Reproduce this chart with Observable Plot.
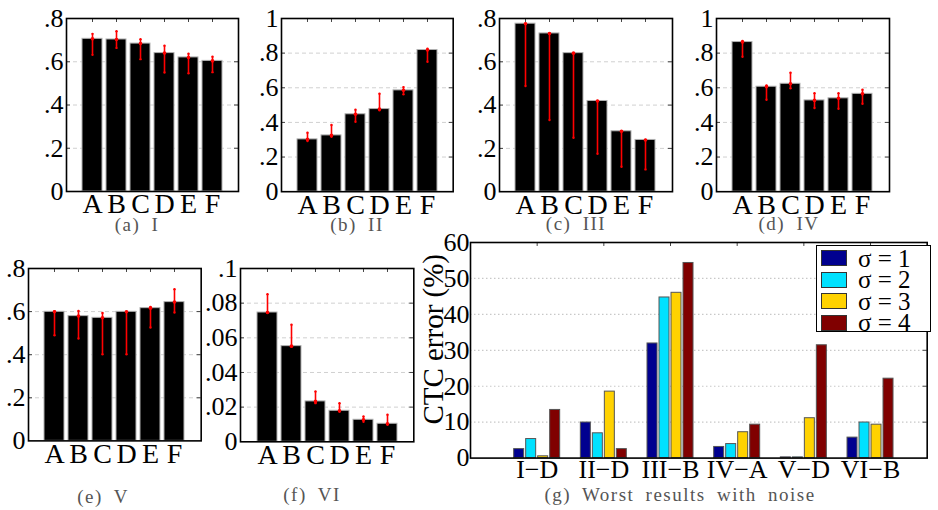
<!DOCTYPE html>
<html>
<head>
<meta charset="utf-8">
<script src="https://cdn.jsdelivr.net/npm/d3@7"></script>
<script src="https://cdn.jsdelivr.net/npm/@observablehq/plot@0.6"></script>
<style>
  html, body { margin: 0; padding: 0; background: white; }
  #fig { position: relative; width: 938px; height: 510px; overflow: hidden; background: white; font-family: "Liberation Serif", "DejaVu Serif", serif; }
  .panel { position: absolute; }
  .bars g[aria-label="x-axis tick label"] { font-size: 28px; }
  .cap { position: absolute; transform: translate(-50%, -50%); color: #555; font-size: 19px; line-height: 0.8; letter-spacing: 1.5px; word-spacing: 5px; white-space: nowrap; }
  #legend { position: absolute; left: 816px; top: 245px; width: 113px; height: 85px; border: 1.5px solid black; background: white; }
  .row { position: absolute; left: 4px; height: 20px; display: flex; align-items: center; }
  .sw { width: 24px; height: 14px; border: 1px solid #333; margin-right: 11px; }
  .lt { display: inline-block; font-size: 25px; line-height: 19px; height: 19px; overflow: visible; white-space: nowrap; }
</style>
</head>
<body>
<div id="fig"></div>
<script>
// ---- data ----
const cats = ["A", "B", "C", "D", "E", "F"];

const valsI = [0.706, 0.703, 0.684, 0.640, 0.620, 0.604];
const loI   = [0.632, 0.664, 0.612, 0.550, 0.547, 0.552];
const hiI   = [0.729, 0.741, 0.704, 0.674, 0.637, 0.623];

const valsII = [0.302, 0.325, 0.447, 0.477, 0.585, 0.818];
const loII   = [0.293, 0.317, 0.404, 0.470, 0.562, 0.750];
const hiII   = [0.340, 0.385, 0.473, 0.566, 0.604, 0.825];

const valsIII = [0.776, 0.731, 0.640, 0.419, 0.279, 0.239];
const loIII   = [0.488, 0.331, 0.249, 0.175, 0.115, 0.103];
const hiIII   = [0.776, 0.731, 0.640, 0.419, 0.279, 0.239];

const valsIV = [0.864, 0.606, 0.623, 0.527, 0.539, 0.565];
const loIV   = [0.779, 0.531, 0.597, 0.483, 0.479, 0.508];
const hiIV   = [0.870, 0.614, 0.687, 0.569, 0.568, 0.589];

const valsV = [0.599, 0.579, 0.571, 0.599, 0.616, 0.644];
const loV   = [0.490, 0.475, 0.402, 0.402, 0.526, 0.596];
const hiV   = [0.602, 0.603, 0.594, 0.599, 0.622, 0.704];

const valsVI = [0.0746, 0.0552, 0.0233, 0.0179, 0.0127, 0.0104];
const loVI   = [0.0746, 0.0548, 0.0223, 0.0173, 0.0115, 0.0098];
const hiVI   = [0.0852, 0.0675, 0.0290, 0.0223, 0.0146, 0.0156];

const groups = ["I\u2212D", "II\u2212D", "III\u2212B", "IV\u2212A", "V\u2212D", "VI\u2212B"];
const sigmaLabels = ["\u03c3 = 1", "\u03c3 = 2", "\u03c3 = 3", "\u03c3 = 4"];
const sigma1 = [2.5, 9.9, 31.9, 3.1, 0.2, 5.7];
const sigma2 = [5.3, 6.9, 44.7, 3.9, 0.2, 9.9];
const sigma3 = [0.5, 18.5, 46.0, 7.2, 11.1, 9.3];
const sigma4 = [13.4, 2.5, 54.3, 9.3, 31.4, 22.1];
const sigmaColors = ["#00008f", "#00e1ff", "#ffd200", "#800000"];

const ticks08 = [0, 0.2, 0.4, 0.6, 0.8];
const ticks1 = [0, 0.2, 0.4, 0.6, 0.8, 1];
const ticks01 = [0, 0.02, 0.04, 0.06, 0.08, 0.1];
const ticks60 = [0, 10, 20, 30, 40, 50, 60];

// ---- helpers ----
const fig = document.getElementById("fig");
const fmt = d => d === 0 ? "0" : d === 1 ? "1" : String(+d.toFixed(3)).replace(/^0\./, ".");

function place(el, left, top, cls) {
  el.classList.add("panel");
  if (cls) el.classList.add(cls);
  el.style.left = left + "px";
  el.style.top = top + "px";
  fig.appendChild(el);
}
function caption(text, x, y) {
  const d = document.createElement("div");
  d.className = "cap";
  d.textContent = text;
  d.style.left = x + "px";
  d.style.top = y + "px";
  fig.appendChild(d);
}

function barPanel({vals, lo, hi, yMax, ticks, frame, cap, capX, capY}) {
  const [x0, y0, x1, y1] = frame;
  const mL = 46, mR = 6, mT = 16, mB = 30;
  const w = x1 - x0, h = y1 - y0;
  const data = cats.map((c, i) => ({cat: c, v: vals[i], lo: lo[i], hi: hi[i]}));
  const grid = ticks.filter(t => t > 0 && t < yMax);
  const chart = Plot.plot({
    width: w + mL + mR, height: h + mT + mB,
    marginLeft: mL, marginRight: mR, marginTop: mT, marginBottom: mB,
    style: {fontFamily: "Liberation Serif", fontSize: "26px", background: "transparent", overflow: "visible", color: "black"},
    x: {type: "band", domain: cats, paddingInner: 0.16, paddingOuter: 0.58, tickSize: 0, tickPadding: 2, label: null},
    y: {domain: [0, yMax], ticks, tickFormat: fmt, tickSize: 0, tickPadding: 3, label: null},
    marks: [
      Plot.ruleY(grid, {stroke: "#d0d0d0", strokeDasharray: "4,3", strokeWidth: 1}),
      Plot.tickY(grid, {insetRight: w - 4, stroke: "#444"}),
      Plot.tickY(grid, {insetLeft: w - 4, stroke: "#444"}),
      Plot.tickX(cats, {x: d => d, insetBottom: h - 4, stroke: "#444"}),
      Plot.barY(data, {x: "cat", y: "v", fill: "black", stroke: "#b0b0b0", strokeWidth: 1}),
      Plot.ruleX(data, {x: "cat", y1: "lo", y2: "hi", stroke: "#ff0000", strokeWidth: 1.6}),
      Plot.dot(data, {x: "cat", y: "v", r: 1.8, fill: "#ff0000"}),
      Plot.dot(data, {x: "cat", y: "lo", r: 1.2, fill: "#ff0000"}),
      Plot.dot(data, {x: "cat", y: "hi", r: 1.2, fill: "#ff0000"}),
      Plot.frame({stroke: "black", strokeWidth: 1.6})
    ]
  });
  place(chart, x0 - mL, y0 - mT, "bars");
  caption(cap, capX, capY);
}

barPanel({vals: valsI, lo: loI, hi: hiI, yMax: 0.8, ticks: ticks08, frame: [66, 18, 238, 191], cap: "(a) I", capX: 137, capY: 225});
barPanel({vals: valsII, lo: loII, hi: hiII, yMax: 1, ticks: ticks1, frame: [281, 17.5, 452.7, 190.7], cap: "(b) II", capX: 357, capY: 225});
barPanel({vals: valsIII, lo: loIII, hi: hiIII, yMax: 0.8, ticks: ticks08, frame: [499.3, 17.5, 672.3, 190.7], cap: "(c) III", capX: 576, capY: 224});
barPanel({vals: valsIV, lo: loIV, hi: hiIV, yMax: 1, ticks: ticks1, frame: [716, 17.5, 889, 190.7], cap: "(d) IV", capX: 789, capY: 224});
barPanel({vals: valsV, lo: loV, hi: hiV, yMax: 0.8, ticks: ticks08, frame: [28.3, 268.3, 201, 440.7], cap: "(e) V", capX: 103, capY: 497});
barPanel({vals: valsVI, lo: loVI, hi: hiVI, yMax: 0.1, ticks: ticks01, frame: [240, 267.7, 413.3, 441], cap: "(f) VI", capX: 312, capY: 495});

// ---- panel (g): grouped bars ----
(function () {
  const [x0, y0, x1, y1] = [470, 241.7, 926.7, 457.3];
  const mL = 56, mR = 8, mT = 14, mB = 30;
  const w = x1 - x0, h = y1 - y0;
  const series = [sigma1, sigma2, sigma3, sigma4];
  const rows = [];
  groups.forEach((g, gi) => series.forEach((s, si) => rows.push({group: g, gi: gi + 1, si, sigma: sigmaLabels[si], v: s[gi]})));
  const step = 0.18, bw = 0.15;
  const grid = ticks60.filter(t => t > 0 && t < 60);
  const chart = Plot.plot({
    width: w + mL + mR, height: h + mT + mB,
    marginLeft: mL, marginRight: mR, marginTop: mT, marginBottom: mB,
    style: {fontFamily: "Liberation Serif", fontSize: "26px", background: "transparent", overflow: "visible", color: "black"},
    x: {type: "linear", domain: [0, 6.85], ticks: [1, 2, 3, 4, 5, 6], tickFormat: i => groups[i - 1], tickSize: 0, tickPadding: 1, label: null},
    y: {domain: [0, 60], ticks: ticks60, tickSize: 0, tickPadding: 1, label: null},
    color: {domain: sigmaLabels, range: sigmaColors},
    marks: [
      Plot.ruleY(grid, {stroke: "#c8c8c8", strokeDasharray: "1.5,2.5", strokeWidth: 1.2}),
      Plot.tickY(grid, {insetLeft: w - 4, stroke: "#444"}),
      Plot.tickX([1, 2, 3, 4, 5, 6], {x: d => d, insetBottom: h - 4, stroke: "#444"}),
      Plot.rect(rows, {
        x1: d => d.gi + (d.si - 1.5) * step - bw / 2,
        x2: d => d.gi + (d.si - 1.5) * step + bw / 2,
        y1: 0, y2: "v", fill: "sigma", stroke: "#555", strokeWidth: 1
      }),
      Plot.frame({stroke: "black", strokeWidth: 1.6}),
      Plot.text(["CTC error (%)"], {frameAnchor: "left", textAnchor: "middle", lineAnchor: "middle", dx: -37, dy: -11, rotate: -90, fontSize: 29, fill: "black"})
    ]
  });
  place(chart, x0 - mL, y0 - mT);
  caption("(g) Worst results with noise", 680, 495);

  // legend
  const lg = document.createElement("div");
  lg.id = "legend";
  sigmaLabels.forEach((lab, i) => {
    const r = document.createElement("div");
    r.className = "row";
    r.style.top = (2 + i * 21.5) + "px";
    const sw = document.createElement("div");
    sw.className = "sw";
    sw.style.background = sigmaColors[i];
    const t = document.createElement("span");
    t.className = "lt";
    t.textContent = lab;
    r.appendChild(sw); r.appendChild(t);
    lg.appendChild(r);
  });
  fig.appendChild(lg);
})();
</script>
</body>
</html>
